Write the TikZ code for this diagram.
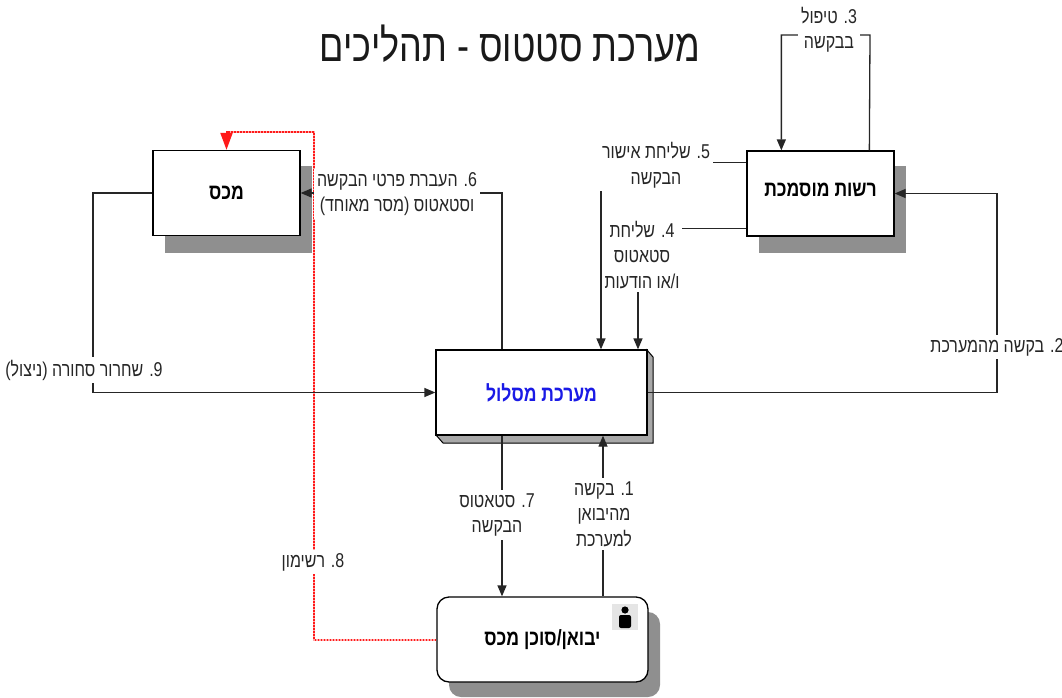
\documentclass[tikz,border=0pt]{standalone}
\usepackage{fontspec}
\setmainfont[Script=Hebrew,FakeStretch=0.8]{Liberation Sans}
\TeXXeTstate=1
\usetikzlibrary{arrows.meta}
\newcommand{\hb}[1]{\beginR #1\endR}
\definecolor{shadowgray}{HTML}{8F8F8F}
\definecolor{bevelgray}{HTML}{A8A8A8}
\definecolor{labelgray}{HTML}{262626}
\definecolor{titleblue}{HTML}{1A1AE6}
\definecolor{dotred}{HTML}{FF1A1A}
\definecolor{pinkred}{HTML}{FFA8A8}
\tikzset{
  boxnode/.style={draw=black, line width=1.3pt, fill=white, minimum width=147pt, minimum height=85pt, inner sep=0pt, font=\fontsize{22}{26}\selectfont\bfseries},
  conn/.style={draw=black!85, line width=1.3pt, -{Triangle[length=11pt,width=9pt]}},
  lbl/.style={fill=white, inner sep=3pt, align=center, text=labelgray, font=\fontsize{20}{25.5}\selectfont},
  redbase/.style={draw=pinkred, line width=2pt},
  redline/.style={draw=dotred, line width=2pt, dash pattern=on 1.5pt off 1.5pt, -{Triangle[length=17pt,width=12pt,color=dotred,fill=dotred]}},
}
\begin{document}
\begin{tikzpicture}[x=1pt,y=-1pt]
\useasboundingbox (0,0) rectangle (1062,698);
% title
\node[font=\fontsize{45}{50}\selectfont, text=black!90] (title) at (510,44) {\hb{מערכת סטטוס - תהליכים}};
% shadows
\fill[shadowgray] (165,166) rectangle (312,253);
\fill[shadowgray] (759,166) rectangle (906,253);
\fill[shadowgray, rounded corners=12pt] (449,612) rectangle (660,697);
\filldraw[fill=bevelgray, draw=black, line width=1pt] (647,350) -- (653,357) -- (653,443) -- (443,443) -- (436,435) -- (647,435) -- cycle;
% boxes
\node[boxnode] (mekhes) at (226.5,193) {\hb{מכס}};
\node[boxnode] (rashut) at (820.5,193.5) {\raisebox{8pt}{\hb{רשות מוסמכת}}};
\node[boxnode, minimum width=211pt, minimum height=85pt, text=titleblue] (maslul) at (541.5,392.5) {\hb{מערכת מסלול}};
\node[boxnode, minimum width=211pt, minimum height=85pt, rounded corners=12pt] (yevuan) at (542.5,639.5) {\hb{יבואן/סוכן מכס}};
% person icon
\fill[black!10] (612,604) rectangle (638,630);
\fill[black] (625,610) circle (3.6pt);
\fill[black, rounded corners=2pt] (619,615) rectangle (631,628);
% helper coordinates
\coordinate (m6) at ([xshift=-39.5pt]maslul.north);
\coordinate (m5) at ([xshift=59.5pt]maslul.north);
\coordinate (m4) at ([xshift=96.5pt]maslul.north);
\coordinate (m1) at ([xshift=61.5pt]maslul.south);
\coordinate (m7) at ([xshift=-39.5pt]maslul.south);
\coordinate (r5) at ([yshift=-12pt]rashut.north west);
\coordinate (r4) at ([yshift=8pt]rashut.south west);
\coordinate (r3out) at ([xshift=123pt]rashut.north west);
\coordinate (r3in) at ([xshift=35pt]rashut.north west);
\coordinate (top3) at (870,35);
\coordinate (right2) at (997,392.5);
\coordinate (left9) at (93,193);
\coordinate (rtop) at (314,132);
\coordinate (rend) at ([yshift=14pt]mekhes.north);
% red connector
\draw[redbase] (yevuan.west) -| (rtop) -| (rend);
\draw[redline] (yevuan.west) -| (rtop) -| (mekhes.north);
% connectors
\draw[conn] (maslul.east) -- (right2) |- (rashut.east);
\draw[conn] (r3out) -- (top3) -| (r3in);
\draw[conn] (r5) -| (m5);
\draw[conn] (r4) -| (m4);
\draw[conn] (m6) |- (mekhes.east);
\draw[conn] (mekhes.west) -- (left9) |- (maslul.west);
\draw[conn] (m7) -- (m7 |- yevuan.north);
\draw[conn] (m1 |- yevuan.north) -- (m1);
% labels
\node[lbl] (l1) at (604,514) {\hb{1. בקשה}\\\hb{מהיבואן}\\\hb{למערכת}};
\node[lbl] (l2) at (997,347) {\hb{2. בקשה מהמערכת}};
\node[lbl] (l3) at (829,30) {\hb{3. טיפול}\\\hb{בבקשה}};
\node[lbl] (l4) at (642,255) {\hb{4. שליחת}\\\hb{סטאטוס}\\\hb{ו/או הודעות}};
\node[lbl] (l5) at (656,165) {\hb{5. שליחת אישור}\\\hb{הבקשה}};
\node[lbl] (l6) at (397,194) {\hb{6. העברת פרטי הבקשה}\\\hb{וסטאטוס (מסר מאוחד)}};
\node[lbl] (l7) at (497,515) {\hb{7. סטאטוס}\\\hb{הבקשה}};
\node[lbl] (l8) at (313,562) {\hb{8. רשימון}};
\node[lbl] (l9) at (84,370) {\hb{9. שחרור סחורה (ניצול)}};
\end{tikzpicture}
\end{document}
